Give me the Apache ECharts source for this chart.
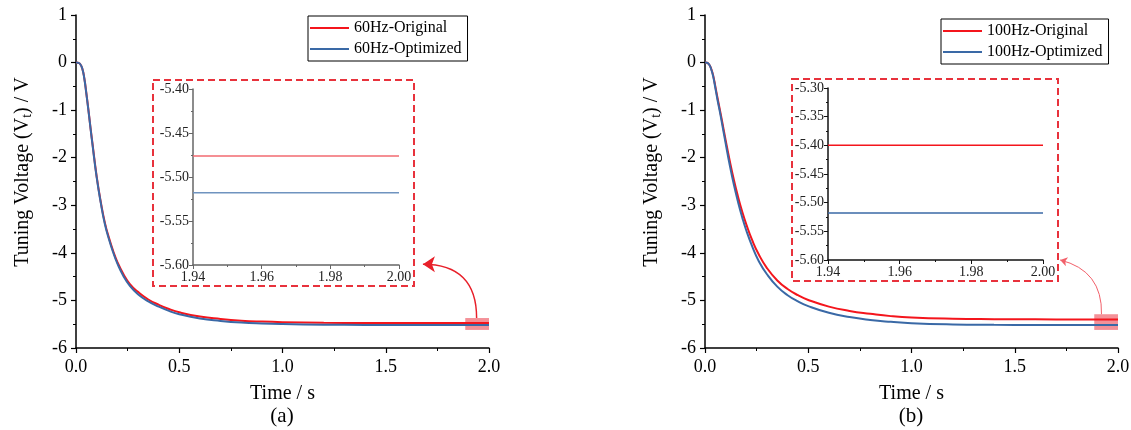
<!DOCTYPE html>
<html>
<head>
<meta charset="utf-8">
<script src="https://cdn.jsdelivr.net/npm/echarts@6/dist/echarts.min.js"></script>
<style>
html,body{margin:0;padding:0;background:#fff;}
#chart{width:1131px;height:430px;}
</style>
</head>
<body>
<div id="chart"></div>
<script>
// ---- data ----
const time = [0, 0.01, 0.02, 0.03, 0.04, 0.05, 0.06, 0.07, 0.08, 0.10, 0.12, 0.14, 0.16, 0.18, 0.20, 0.23, 0.26, 0.30, 0.35, 0.40, 0.45, 0.50, 0.60, 0.70, 0.80, 0.90, 1.00, 1.20, 1.40, 1.60, 1.80, 1.94, 2.00];
const v60Original  = [0, -0.005, -0.03, -0.12, -0.32, -0.64, -0.99, -1.36, -1.71, -2.39, -2.93, -3.37, -3.69, -3.96, -4.19, -4.45, -4.65, -4.82, -4.98, -5.09, -5.18, -5.25, -5.34, -5.39, -5.425, -5.445, -5.457, -5.469, -5.473, -5.475, -5.476, -5.476, -5.476];
const v60Optimized = [0, -0.005, -0.03, -0.12, -0.33, -0.65, -1.00, -1.37, -1.73, -2.41, -2.95, -3.40, -3.72, -3.99, -4.22, -4.49, -4.69, -4.87, -5.02, -5.13, -5.22, -5.29, -5.38, -5.43, -5.465, -5.485, -5.497, -5.51, -5.515, -5.517, -5.518, -5.518, -5.518];
const v100Original  = [0, -0.005, -0.04, -0.13, -0.28, -0.50, -0.73, -0.95, -1.17, -1.63, -2.07, -2.47, -2.82, -3.13, -3.40, -3.75, -4.03, -4.32, -4.58, -4.76, -4.89, -4.99, -5.13, -5.22, -5.28, -5.33, -5.36, -5.385, -5.394, -5.398, -5.40, -5.40, -5.40];
const v100Optimized = [0, -0.005, -0.04, -0.14, -0.30, -0.53, -0.77, -0.99, -1.22, -1.70, -2.16, -2.57, -2.93, -3.25, -3.53, -3.88, -4.17, -4.45, -4.71, -4.89, -5.02, -5.12, -5.26, -5.35, -5.41, -5.45, -5.48, -5.505, -5.513, -5.516, -5.518, -5.518, -5.518];
const seriesNames = ['60Hz-Original', '60Hz-Optimized', '100Hz-Original', '100Hz-Optimized'];
const panelLabels = ['(a)', '(b)'];
const xAxisName = 'Time / s';
const yAxisName = 'Tuning Voltage (V{sub|t}) / V';
const insetStart = 1.94;

// ---- helpers ----
const FONT = "'Liberation Serif', 'Times New Roman', serif";
const RED = '#f4151c';
const BLUE = '#3a69a6';
const pairs = arr => time.map((t, i) => [t, arr[i]]);
const insetPairs = arr => time.map((t, i) => [t, arr[i]]).filter(p => p[0] >= insetStart - 1e-9);

function mainX(gridIndex) {
  return {
    type: 'value', gridIndex, min: 0, max: 2, interval: 0.5,
    name: xAxisName, nameLocation: 'middle', nameGap: 36,
    nameTextStyle: {fontFamily: FONT, fontSize: 20, color: '#000'},
    axisLine: {show: true, onZero: false, lineStyle: {color: '#000', width: 1.5}},
    axisTick: {show: true, inside: false, length: 5, lineStyle: {color: '#000', width: 1.2}},
    minorTick: {show: true, splitNumber: 2, length: 3, lineStyle: {color: '#000', width: 1}},
    splitLine: {show: false},
    axisLabel: {fontFamily: FONT, fontSize: 18, color: '#000', margin: 10, formatter: v => v.toFixed(1)}
  };
}
function mainY(gridIndex) {
  return {
    type: 'value', gridIndex, min: -6, max: 1, interval: 1,
    name: yAxisName, nameLocation: 'middle', nameGap: 42,
    nameTextStyle: {fontFamily: FONT, fontSize: 20, color: '#000', padding: [0, 0, 0, 19],
      rich: {sub: {fontFamily: FONT, fontSize: 14, color: '#000', padding: [8, 0, 0, 0]}}},
    axisLine: {show: true, onZero: false, lineStyle: {color: '#000', width: 1.5}},
    axisTick: {show: true, inside: false, length: 5, lineStyle: {color: '#000', width: 1.2}},
    minorTick: {show: true, splitNumber: 2, length: 3, lineStyle: {color: '#000', width: 1}},
    splitLine: {show: false},
    axisLabel: {fontFamily: FONT, fontSize: 18, color: '#000', margin: 9}
  };
}
function insetX(gridIndex, axisColor) {
  return {
    type: 'value', gridIndex, min: 1.94, max: 2.0, interval: 0.02,
    axisLine: {show: true, onZero: false, lineStyle: {color: axisColor, width: 1.5}},
    axisTick: {show: true, length: 4, lineStyle: {color: axisColor}},
    minorTick: {show: true, splitNumber: 2, length: 2, lineStyle: {color: axisColor}},
    splitLine: {show: false},
    axisLabel: {fontFamily: FONT, fontSize: 14, color: '#222', margin: 5, formatter: v => v.toFixed(2)}
  };
}
function insetY(gridIndex, min, max, axisColor) {
  return {
    type: 'value', gridIndex, min, max, interval: 0.05,
    axisLine: {show: true, onZero: false, lineStyle: {color: axisColor, width: 1.5}},
    axisTick: {show: true, length: 4, lineStyle: {color: axisColor}},
    minorTick: {show: true, splitNumber: 2, length: 2, lineStyle: {color: axisColor}},
    splitLine: {show: false},
    axisLabel: {fontFamily: FONT, fontSize: 14, color: '#222', margin: 4, formatter: v => v.toFixed(2)}
  };
}
function line(name, data, color, xi, yi, width, extra) {
  return Object.assign({
    name, type: 'line', data, xAxisIndex: xi, yAxisIndex: yi,
    showSymbol: false, symbol: 'none', smooth: 0.5,
    lineStyle: {color, width}, itemStyle: {color}, silent: true
  }, extra || {});
}
function legend(left, top, names) {
  return {
    left, top, orient: 'vertical', data: names,
    icon: 'rect', itemWidth: 39, itemHeight: 2, itemGap: 5,
    padding: [4, 6, 4, 2],
    borderColor: '#000', borderWidth: 1, backgroundColor: '#fff',
    textStyle: {fontFamily: FONT, fontSize: 16, color: '#000', lineHeight: 16}
  };
}

const option = {
  animation: false,
  backgroundColor: '#fff',
  grid: [
    {left: 76, top: 15, width: 413, height: 333, outerBoundsMode: 'none'},
    {left: 193, top: 89, width: 206, height: 176, outerBoundsMode: 'none'},
    {left: 705, top: 15, width: 413, height: 333, outerBoundsMode: 'none'},
    {left: 828, top: 88, width: 215, height: 172, outerBoundsMode: 'none'}
  ],
  xAxis: [mainX(0), insetX(1, '#666'), mainX(2), insetX(3, '#111')],
  yAxis: [mainY(0), insetY(1, -5.60, -5.40, '#666'), mainY(2), insetY(3, -5.60, -5.30, '#111')],
  legend: [
    legend(308, 16, [seriesNames[0], seriesNames[1]]),
    legend(941, 19, [seriesNames[2], seriesNames[3]])
  ],
  series: [
    line(seriesNames[0], pairs(v60Original), RED, 0, 0, 2),
    line(seriesNames[1], pairs(v60Optimized), BLUE, 0, 0, 2, {
      markArea: {silent: true, itemStyle: {color: 'rgba(236,72,84,0.6)'},
        data: [[{xAxis: 1.885, yAxis: -5.37}, {xAxis: 2.0, yAxis: -5.62}]]}
    }),
    line(seriesNames[0], insetPairs(v60Original), '#f26a70', 1, 1, 1.5),
    line(seriesNames[1], insetPairs(v60Optimized), '#6f93bf', 1, 1, 1.5),
    {
      type: 'lines', coordinateSystem: 'cartesian2d', xAxisIndex: 0, yAxisIndex: 0, silent: true,
      symbol: ['none', 'arrow'], symbolSize: 12,
      lineStyle: {color: '#e8202a', width: 1.5, curveness: -0.5, opacity: 1},
      data: [{coords: [[1.94, -5.37], [1.68, -4.24]]}]
    },
    line(seriesNames[2], pairs(v100Original), RED, 2, 2, 2),
    line(seriesNames[3], pairs(v100Optimized), BLUE, 2, 2, 2, {
      markArea: {silent: true, itemStyle: {color: 'rgba(236,72,84,0.6)'},
        data: [[{xAxis: 1.885, yAxis: -5.29}, {xAxis: 2.0, yAxis: -5.62}]]}
    }),
    line(seriesNames[2], insetPairs(v100Original), RED, 3, 3, 1.5),
    line(seriesNames[3], insetPairs(v100Optimized), BLUE, 3, 3, 1.5),
    {
      type: 'lines', coordinateSystem: 'cartesian2d', xAxisIndex: 2, yAxisIndex: 2, silent: true,
      symbol: ['none', 'arrow'], symbolSize: 7,
      lineStyle: {color: '#f2606a', width: 1, curveness: -0.4, opacity: 1},
      data: [{coords: [[1.92, -5.29], [1.72, -4.15]]}]
    }
  ],
  graphic: [
    {type: 'rect', silent: true, z: 10, shape: {x: 153, y: 80, width: 261, height: 206},
      style: {fill: 'none', stroke: '#e8323c', lineWidth: 2, lineDash: [7, 4]}},
    {type: 'rect', silent: true, z: 10, shape: {x: 792, y: 79, width: 266, height: 202},
      style: {fill: 'none', stroke: '#e8323c', lineWidth: 2, lineDash: [7, 4]}},
    {type: 'text', silent: true, x: 282, y: 416,
      style: {text: panelLabels[0], fontFamily: FONT, fontSize: 21, fill: '#000', align: 'center', verticalAlign: 'middle'}},
    {type: 'text', silent: true, x: 911, y: 416,
      style: {text: panelLabels[1], fontFamily: FONT, fontSize: 21, fill: '#000', align: 'center', verticalAlign: 'middle'}}
  ]
};

const chart = echarts.init(document.getElementById('chart'), null, {renderer: 'canvas'});
chart.setOption(option);
</script>
</body>
</html>
